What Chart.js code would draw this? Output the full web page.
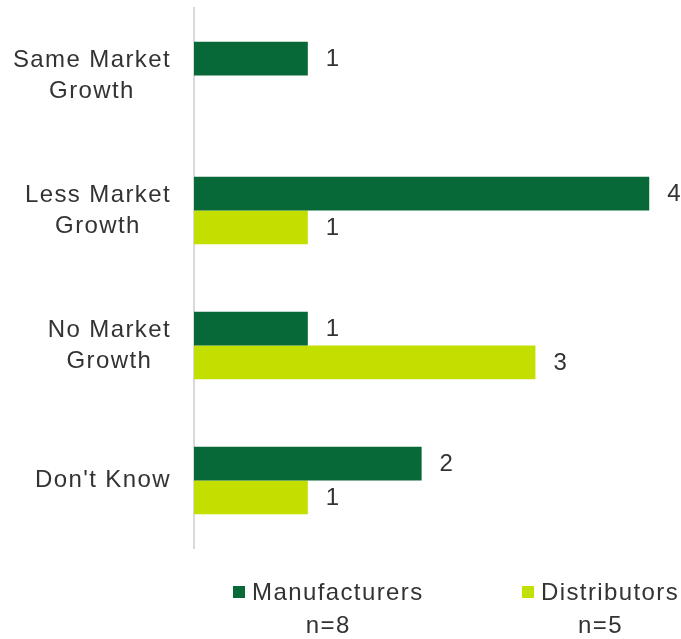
<!DOCTYPE html>
<html>
<head>
<meta charset="utf-8">
<script src="https://cdn.jsdelivr.net/npm/chart.js@4"></script>
<style>
  html, body { margin: 0; padding: 0; background: #fff; }
  #wrap { width: 681px; height: 639px; position: relative; }
</style>
</head>
<body>
<div id="wrap"><canvas id="chart1"></canvas></div>
<script>
const categories = [['Same Market', 'Growth'], ['Less Market', 'Growth'], ['No Market', 'Growth'], ["Don't Know"]];
const seriesNames = ['Manufacturers', 'Distributors'];
const sampleSizes = ['n=8', 'n=5'];
const manufacturers = [1, 4, 1, 2];
const distributors = [null, 1, 3, 1];

const darkGreen = '#066937';
const lime = '#c3df00';
const textColor = '#333333';
const font = 'Arial, "Liberation Sans", sans-serif';

function setText(ctx) {
  ctx.font = '24px ' + font;
  ctx.fillStyle = textColor;
  ctx.textBaseline = 'middle';
  if ('letterSpacing' in ctx) ctx.letterSpacing = '1.4px';
}

// category names: each block right-aligned against the axis, lines centred inside it
const categoryLabels = {
  id: 'categoryLabels',
  afterDraw(chart) {
    const ctx = chart.ctx;
    const yScale = chart.scales.y;
    ctx.save();
    setText(ctx);
    ctx.textAlign = 'center';
    const right = yScale.right - 23;
    chart.data.labels.forEach((lines, i) => {
      const y = yScale.getPixelForTick(i);
      const widest = Math.max(...lines.map(l => ctx.measureText(l).width));
      const cx = right - widest / 2;
      const lineH = 31;
      lines.forEach((line, k) => {
        const dy = (k - (lines.length - 1) / 2) * lineH;
        ctx.fillText(line, cx, y + dy);
      });
    });
    ctx.restore();
  }
};

// numbers to the right of each bar
const valueLabels = {
  id: 'valueLabels',
  afterDatasetsDraw(chart) {
    const ctx = chart.ctx;
    ctx.save();
    setText(ctx);
    ctx.textAlign = 'left';
    chart.data.datasets.forEach((ds, i) => {
      chart.getDatasetMeta(i).data.forEach((bar, j) => {
        if (ds.data[j] == null) return;
        ctx.fillText(ds.data[j], bar.x + 18, bar.y + 1);
      });
    });
    ctx.restore();
  }
};

// legend under the plot, with sample size below each entry
const bottomLegend = {
  id: 'bottomLegend',
  afterDraw(chart) {
    const ctx = chart.ctx;
    const starts = [233, 522];
    ctx.save();
    setText(ctx);
    chart.data.datasets.forEach((ds, i) => {
      const x = starts[i];
      ctx.fillStyle = ds.backgroundColor;
      ctx.fillRect(x, 586, 12, 12);
      ctx.fillStyle = textColor;
      ctx.textAlign = 'left';
      ctx.fillText(ds.label, x + 19, 593);
      const w = 19 + ctx.measureText(ds.label).width;
      ctx.textAlign = 'center';
      ctx.fillText(sampleSizes[i], x + w / 2, 626);
    });
    ctx.restore();
  }
};

const myChart = new Chart(document.getElementById('chart1'), {
  type: 'bar',
  data: {
    labels: categories,
    datasets: [
      { label: seriesNames[0], data: manufacturers, backgroundColor: darkGreen },
      { label: seriesNames[1], data: distributors, backgroundColor: lime }
    ]
  },
  options: {
    indexAxis: 'y',
    responsive: true,
    maintainAspectRatio: false,
    animation: false,
    layout: { padding: { top: 8, right: 9, bottom: 91, left: 0 } },
    datasets: { bar: { categoryPercentage: 0.5, barPercentage: 1 } },
    plugins: {
      legend: { display: false },
      tooltip: { enabled: false }
    },
    scales: {
      x: {
        display: false,
        min: 0,
        max: 4.2
      },
      y: {
        afterFit(scale) {
          scale.width = 194;
          scale.paddingTop = 0;
          scale.paddingBottom = 0;
        },
        grid: { display: false, drawTicks: false },
        border: { color: '#d9d9d9', width: 2 },
        ticks: { display: false }
      }
    }
  },
  plugins: [valueLabels, categoryLabels, bottomLegend]
});
</script>
</body>
</html>
